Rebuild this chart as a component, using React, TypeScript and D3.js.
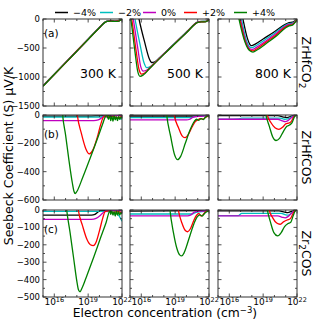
import React from "react";
import * as d3 from "d3";

type Pt = [number, number]; // [log10(n), S in µV/K]

const SERIES = ["\u22124%", "\u22122%", "0%", "+2%", "+4%"];
const COLORS = ["#000000", "#00bfbf", "#bf00bf", "#ff0000", "#008000"];
const TEMPS = ["300 K", "500 K", "800 K"];
const LETTERS = ["(a)", "(b)", "(c)"];
const X_TICKS = [16, 19, 22];
const X_MINOR = [15, 16, 17, 18, 19, 20, 21, 22];
const Y_DOMAINS: [number, number][] = [[-1500, 0], [-600, 0], [-500, 0]];
const Y_TICKS = [[0, -500, -1000, -1500], [0, -200, -400, -600], [0, -100, -200, -300, -400, -500]];
const Y_MINOR = [[-250, -750, -1250], [-100, -300, -500], [-50, -150, -250, -350, -450]];

// Row (a) ZrHfCO2
const a300: Pt[][] = [
  [[15,-1150],[16,-950],[17,-750],[18,-548],[19,-347],[20,-146],[20.5,-52],[20.7,-35],[21,-30],[21.4,-36],[21.7,-30],[21.9,-12],[22,-5]],
  [[15,-1152],[16,-952],[17,-752],[18,-550],[19,-349],[20,-148],[20.5,-54],[20.7,-37],[21,-32],[21.4,-38],[21.7,-31],[21.9,-13],[22,-6]],
  [[15,-1155],[16,-954],[17,-754],[18,-552],[19,-350],[20,-149],[20.5,-55],[20.7,-39],[21,-33],[21.4,-39],[21.7,-32],[21.9,-13],[22,-6]],
  [[15,-1157],[16,-956],[17,-755],[18,-553],[19,-352],[20,-150],[20.5,-56],[20.7,-40],[21,-35],[21.4,-41],[21.7,-34],[21.9,-14],[22,-7]],
  [[15,-1160],[16,-958],[17,-757],[18,-555],[19,-353],[20,-152],[20.5,-58],[20.7,-42],[21,-36],[21.4,-42],[21.7,-35],[21.9,-15],[22,-8]],
];
const a500: Pt[][] = [
  [[15.6,200],[15.8,0],[16.3,-400],[16.7,-680],[16.92,-750],[17.2,-740],[17.6,-672],[18.5,-505],[19.5,-320],[20.5,-135],[21.0,-50],[21.3,-42],[21.7,-40],[21.9,-20],[22,-8]],
  [[15.25,200],[15.44,0],[15.9,-450],[16.25,-760],[16.48,-840],[16.8,-820],[17.2,-748],[18,-600],[19,-413],[20,-228],[21.0,-52],[21.3,-44],[21.7,-42],[21.9,-22],[22,-10]],
  [[15.1,200],[15.29,0],[15.7,-520],[15.95,-820],[16.18,-898],[16.5,-880],[17,-792],[18,-603],[19,-417],[20,-232],[21.0,-55],[21.3,-46],[21.7,-44],[21.9,-24],[22,-10]],
  [[14.95,200],[15.15,0],[15.55,-560],[15.8,-870],[16.02,-950],[16.3,-930],[16.8,-837],[18,-606],[19,-420],[20,-235],[21.0,-57],[21.3,-48],[21.7,-46],[21.9,-26],[22,-12]],
  [[14.9,200],[15.07,0],[15.45,-580],[15.68,-900],[15.89,-990],[16.2,-962],[16.7,-862],[18,-610],[19,-424],[20,-238],[21.0,-60],[21.3,-50],[21.7,-48],[21.9,-28],[22,-12]],
];
const a800: Pt[][] = [
  [[17.0,200],[17.21,0],[17.6,-330],[17.85,-445],[17.98,-460],[18.3,-432],[19,-345],[20,-220],[21,-88],[21.3,-62],[21.6,-55],[21.85,-25],[22,-3]],
  [[16.87,200],[17.08,0],[17.5,-360],[17.8,-478],[18.0,-495],[18.35,-462],[19.1,-365],[20.05,-240],[21,-105],[21.3,-78],[21.6,-70],[21.85,-35],[22,-5]],
  [[16.78,200],[16.99,0],[17.45,-380],[17.8,-508],[18.05,-525],[18.4,-490],[19.2,-385],[20.1,-260],[21,-120],[21.3,-92],[21.6,-82],[21.85,-42],[22,-6]],
  [[16.72,200],[16.93,0],[17.42,-390],[17.8,-530],[18.1,-550],[18.45,-512],[19.25,-400],[20.15,-275],[21,-135],[21.3,-105],[21.6,-95],[21.85,-48],[22,-8]],
  [[16.65,200],[16.86,0],[17.4,-400],[17.8,-545],[18.1,-570],[18.5,-530],[19.3,-418],[20.2,-290],[21,-150],[21.3,-118],[21.6,-105],[21.85,-55],[22,-10]],
];

// Row (b) ZrHfCOS
const b300: Pt[][] = [
  [[15,-8],[19,-8],[20,-6],[21,-4],[22,-3]],
  [[15,-15],[20,-15],[20.5,-8],[21.3,-15],[21.8,-25],[22,-30]],
  [[15,-40],[19.5,-40],[19.9,-35],[20.2,-20],[20.4,-8],[20.7,-15],[21,-5],[22,-5]],
  [[17.85,150],[18.04,0],[18.4,-130],[18.8,-240],[19.1,-275],[19.4,-250],[19.8,-160],[20.1,-70],[20.35,-15],[20.6,-5],[20.9,-15],[21.2,-10],[21.6,-20],[22,-10]],
  [[16.6,150],[16.74,0],[17.0,-140],[17.3,-320],[17.6,-480],[17.75,-540],[17.85,-555],[18.0,-540],[18.5,-445],[19.2,-300],[19.9,-150],[20.3,-60],[20.5,-15],[20.65,-2],[20.8,-30],[20.9,-5],[21.0,-40],[21.1,-8],[21.2,-45],[21.3,-5],[21.4,-35],[21.5,-12],[21.6,-40],[21.7,-10],[21.8,-30],[21.9,-15],[22,-25]],
];
const b500: Pt[][] = [
  [[15,-7],[20.5,-7],[21,-4],[22,-3]],
  [[15,-19],[20.4,-19],[20.8,-10],[22,-5]],
  [[15,-35],[20.0,-35],[20.3,-30],[20.6,-15],[21,-10],[21.5,-8],[22,-5]],
  [[18.75,120],[18.92,0],[19.3,-90],[19.6,-145],[19.87,-160],[20.15,-140],[20.5,-85],[20.8,-45],[21.0,-35],[21.2,-25],[21.45,-30],[21.7,-15],[22,-5]],
  [[18.1,120],[18.25,0],[18.6,-150],[18.95,-280],[19.22,-315],[19.5,-290],[19.9,-200],[20.3,-110],[20.7,-45],[20.9,-30],[21.1,-38],[21.3,-25],[21.5,-32],[21.7,-15],[22,-5]],
];
const b800: Pt[][] = [
  [[15,-5],[20.3,-5],[20.8,-15],[21.1,-18],[21.5,-8],[22,0]],
  [[15,-29],[16.8,-28],[17.1,-22],[20.5,-22],[20.9,-30],[21.2,-28],[21.5,-15],[22,0]],
  [[15,-30],[20.3,-30],[20.7,-42],[20.95,-47],[21.2,-40],[21.5,-20],[21.8,-5],[22,0]],
  [[19.2,80],[19.37,0],[19.7,-55],[20.05,-90],[20.4,-101],[20.75,-85],[21.0,-62],[21.23,-58],[21.45,-50],[21.7,-15],[21.9,0]],
  [[19.1,80],[19.25,0],[19.55,-80],[19.85,-155],[20.14,-180],[20.45,-165],[20.8,-115],[21.1,-80],[21.35,-70],[21.55,-55],[21.8,-10],[22,0]],
];

// Row (c) Zr2COS
const c300: Pt[][] = [
  [[15,-29],[19.3,-29],[19.6,-25],[19.9,-10],[20.1,-4],[22,-3]],
  [[15,-8],[20.5,-8],[21.2,-15],[21.6,-25],[21.85,-45],[22,-65]],
  [[15,-54],[19.3,-54],[19.7,-48],[20.1,-30],[20.4,-12],[20.7,-3],[22,-3]],
  [[17.95,100],[18.13,0],[18.5,-90],[18.9,-170],[19.2,-200],[19.46,-205],[19.7,-185],[20.0,-120],[20.3,-45],[20.5,-10],[20.8,-5],[21.2,-15],[21.6,-10],[22,-15]],
  [[16.95,100],[17.1,0],[17.4,-130],[17.7,-270],[18.0,-410],[18.15,-460],[18.28,-470],[18.45,-450],[18.9,-375],[19.5,-270],[20.1,-160],[20.6,-70],[20.93,-5],[21.0,-25],[21.1,-5],[21.2,-30],[21.3,-10],[21.4,-35],[21.5,-5],[21.6,-30],[21.7,-10],[21.8,-30],[21.9,-15],[22,-25]],
];
const c500: Pt[][] = [
  [[15,-6],[22,-3]],
  [[15,-23],[20.5,-23],[20.8,-15],[21.2,-10],[22,-5]],
  [[15,-34],[20.1,-34],[20.4,-28],[20.7,-12],[21,-8],[22,-5]],
  [[19.1,80],[19.28,0],[19.6,-75],[19.9,-118],[20.11,-125],[20.35,-108],[20.65,-60],[20.9,-30],[21.1,-20],[21.3,-35],[21.5,-25],[21.7,-10],[22,-5]],
  [[18.4,100],[18.54,0],[18.85,-130],[19.15,-220],[19.4,-258],[19.58,-264],[19.8,-245],[20.2,-170],[20.6,-90],[20.95,-40],[21.2,-28],[21.4,-35],[21.6,-20],[21.8,-10],[22,-5]],
];
const c800: Pt[][] = [
  [[15,-5],[20.4,-5],[20.9,-12],[21.2,-15],[21.5,-8],[22,0]],
  [[15,-32],[16.8,-32],[17.1,-19],[20.6,-19],[21.0,-28],[21.25,-30],[21.5,-18],[21.8,-5],[22,0]],
  [[15,-34],[20.3,-34],[20.7,-42],[20.95,-45],[21.2,-38],[21.5,-20],[21.8,-5],[22,0]],
  [[19.4,60],[19.54,0],[19.85,-45],[20.2,-75],[20.49,-82],[20.8,-68],[21.14,-57],[21.4,-50],[21.65,-20],[21.85,0]],
  [[19.22,60],[19.37,0],[19.65,-70],[19.95,-130],[20.29,-149],[20.6,-130],[20.9,-95],[21.2,-78],[21.45,-70],[21.65,-35],[21.85,-5],[22,0]],
];

const PANELS: Pt[][][][] = [
  [a300, a500, a800],
  [b300, b500, b800],
  [c300, c500, c800],
];

// layout
const W = 314, H = 324;
const COLS = [43, 130, 218];
const ROWS = [19, 115, 210];
const PHS = [87, 85, 87];
const PW = 79;
const FONT = "DejaVu Sans, sans-serif";
const LEG_LINE_X = [55, 100, 143, 184, 234];
const LEG_Y = 12.5;

function MaterialLabel({ row }: { row: number }) {
  if (row === 0)
    return (<>ZrHfCO<tspan dy={3} fontSize={9}>2</tspan></>);
  if (row === 1) return <>ZrHfCOS</>;
  return (<>Zr<tspan dy={3} fontSize={9}>2</tspan><tspan dy={-3}>COS</tspan></>);
}

export default function App() {
  const x = d3.scaleLog().domain([1e15, 1e22]).range([0, PW]);
  return (
    <svg width={W} height={H} style={{ position: "absolute", left: 0, top: 0, background: "#fff" }} fontFamily={FONT}>
      <defs>
        {PHS.map((ph, i) => (
          <clipPath key={i} id={`pc${i}`}><rect x={0} y={0} width={PW} height={ph} /></clipPath>
        ))}
      </defs>
      {/* legend */}
      {SERIES.map((s, i) => (
        <g key={s}>
          <line x1={LEG_LINE_X[i]} x2={LEG_LINE_X[i] + 13} y1={LEG_Y} y2={LEG_Y} stroke={COLORS[i]} strokeWidth={1.5} />
          <text x={LEG_LINE_X[i] + 18} y={LEG_Y + 3.3} fontSize={9.5}>{s}</text>
        </g>
      ))}
      {PANELS.map((row, ri) => {
        const PH = PHS[ri];
        const y = d3.scaleLinear().domain(Y_DOMAINS[ri]).range([PH, 0]);
        const line = d3.line<Pt>().x(d => x(Math.pow(10, d[0]))).y(d => y(d[1])).curve(d3.curveMonotoneX);
        return row.map((panel, ci) => (
          <g key={`${ri}-${ci}`} transform={`translate(${COLS[ci]},${ROWS[ri]})`}>
            <g clipPath={`url(#pc${ri})`}>
              {panel.map((ser, si) => (
                <path key={si} d={line(ser) || ""} fill="none" stroke={COLORS[si]} strokeWidth={1.3} />
              ))}
            </g>
            {X_MINOR.map(t => {
              const px = x(Math.pow(10, t));
              const len = X_TICKS.includes(t) ? 3.5 : 2;
              return (
                <g key={`x${t}`} stroke="#222" strokeWidth={0.8}>
                  <line x1={px} x2={px} y1={PH} y2={PH - len} />
                  <line x1={px} x2={px} y1={0} y2={len} />
                </g>
              );
            })}
            {Y_TICKS[ri].map(t => (
              <g key={`y${t}`} stroke="#222" strokeWidth={0.8}>
                <line x1={0} x2={3.5} y1={y(t)} y2={y(t)} />
                <line x1={PW} x2={PW - 3.5} y1={y(t)} y2={y(t)} />
              </g>
            ))}
            {Y_MINOR[ri].map(t => (
              <g key={`ym${t}`} stroke="#222" strokeWidth={0.8}>
                <line x1={0} x2={2} y1={y(t)} y2={y(t)} />
                <line x1={PW} x2={PW - 2} y1={y(t)} y2={y(t)} />
              </g>
            ))}
            <rect x={0} y={0} width={PW} height={PH} fill="none" stroke="#333" strokeWidth={1} />
            {ci === 0 && Y_TICKS[ri].map(t => (
              <text key={`yl${t}`} x={-3} y={y(t)} dy="0.35em" textAnchor="end" fontSize={8.5}>
                {t < 0 ? `\u2212${-t}` : `${t}`}
              </text>
            ))}
            {ri === 2 && X_TICKS.map(t => (
              <text key={`xl${t}`} x={x(Math.pow(10, t))} y={PH + 8} textAnchor="middle" fontSize={9}>
                10<tspan dy={-3.5} fontSize={6.5}>{t}</tspan>
              </text>
            ))}
            {ci === 0 && (
              <text x={1} y={ri === 0 ? 18 : 23} fontSize={10.5}>{LETTERS[ri]}</text>
            )}
            {ri === 0 && (
              <text x={PW - 6} y={59} textAnchor="end" fontSize={12.5}>{TEMPS[ci]}</text>
            )}
          </g>
        ));
      })}
      {ROWS.map((r, ri) => (
        <text key={`m${ri}`} transform={`translate(302,${r + PHS[ri] / 2}) rotate(90)`} textAnchor="middle" fontSize={12.5}>
          <MaterialLabel row={ri} />
        </text>
      ))}
      <text transform={`translate(13,156) rotate(-90)`} textAnchor="middle" fontSize={12.5}>
        Seebeck Coefficient (S) μV/K
      </text>
      <text x={165} y={317} textAnchor="middle" fontSize={12.3}>
        Electron concentration (cm<tspan dy={-4.5} fontSize={8.5}>{"\u22123"}</tspan><tspan dy={4.5}>)</tspan>
      </text>
    </svg>
  );
}
